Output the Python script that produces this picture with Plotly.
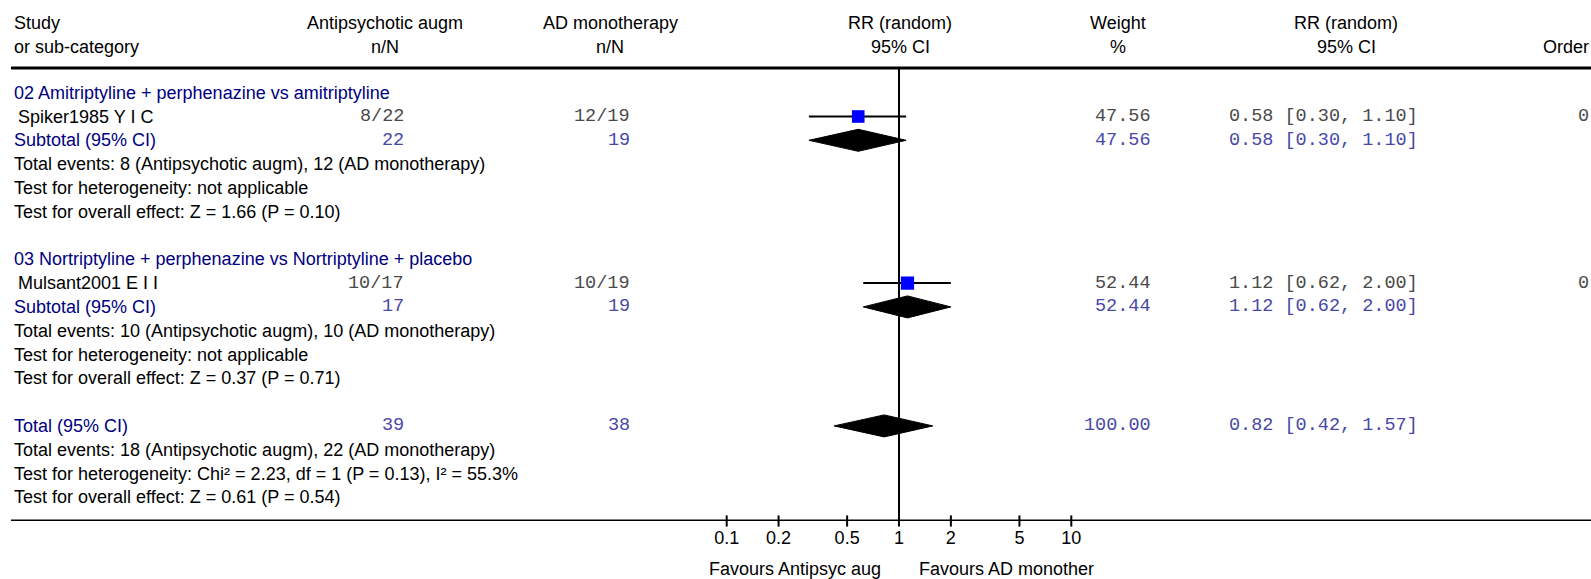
import plotly.graph_objects as go
import math

W, H = 1591, 579

# ---------------- data ----------------
group_titles = ["02 Amitriptyline + perphenazine vs amitriptyline",
                "03 Nortriptyline + perphenazine vs Nortriptyline + placebo"]
studies = ["Spiker1985 Y I C", "Mulsant2001 E I I"]
exp_events = [8, 10]
exp_total = [22, 17]
ctl_events = [12, 10]
ctl_total = [19, 19]
weights = [47.56, 52.44]
rr = [0.58, 1.12]
rr_lo = [0.30, 0.62]
rr_hi = [1.10, 2.00]
order = ["0", "0"]   # only the first character is visible at the right edge
group_events = ["Total events: 8 (Antipsychotic augm), 12 (AD monotherapy)",
                "Total events: 10 (Antipsychotic augm), 10 (AD monotherapy)"]
group_het = ["Test for heterogeneity: not applicable",
             "Test for heterogeneity: not applicable"]
group_effect = ["Test for overall effect: Z = 1.66 (P = 0.10)",
                "Test for overall effect: Z = 0.37 (P = 0.71)"]

total_exp_N = 39
total_ctl_N = 38
total_weight = 100.00
total_rr = 0.82
total_lo = 0.42
total_hi = 1.57
total_lines = ["Total events: 18 (Antipsychotic augm), 22 (AD monotherapy)",
               "Test for heterogeneity: Chi\u00b2 = 2.23, df = 1 (P = 0.13), I\u00b2 = 55.3%",
               "Test for overall effect: Z = 0.61 (P = 0.54)"]

tick_vals = [0.1, 0.2, 0.5, 1, 2, 5, 10]
tick_text = ["0.1", "0.2", "0.5", "1", "2", "5", "10"]

headers = [("Study", "or sub-category", 12, "left"),
           ("Antipsychotic augm", "n/N", 385, "center"),
           ("AD monotherapy", "n/N", 610, "center"),
           ("RR (random)", "95% CI", 900, "center"),
           ("Weight", "%", 1118, "center"),
           ("RR (random)", "95% CI", 1346, "center"),
           ("Order", "", 1591, "right")]

# ---------------- layout helpers ----------------
NAVY = "#000080"
MONO_BLACK = "#4a4a4a"
MONO_BLUE = "#4848a8"
SANS = "Liberation Sans, Arial, sans-serif"
MONO = "Liberation Mono, Courier New, monospace"
FS = 18
FM = 18.5

PLOT_BOTTOM = 521          # pixel of axis line
ROW0 = 92.7                 # pixel of row 0
ROWH = 23.8                 # row height in px
X1 = 899                    # pixel of RR = 1
DEC = 172.3                 # px per decade

def prow(px):
    return (px - ROW0) / ROWH

def xp(px):
    return px / W

ann = []

def text(px, row, s, color="black", anchor="left", font=SANS, size=FS, yref="y"):
    ann.append(dict(x=xp(px), xref="paper", y=row, yref=yref, text=s,
                    showarrow=False, xanchor=anchor, yanchor="middle",
                    font=dict(family=font, size=size, color=color)))

# header
for h1, h2, px, anc in headers:
    if h2:
        text(px, prow(23.3), h1, anchor=anc)
        text(px, prow(46.7), h2, anchor=anc)
    else:
        text(px, prow(46.7), h1, anchor=anc)

X_EXP = 406
X_CTL = 632
X_W = 1153
X_CI = 1227
X_ORD = 1591

fig = go.Figure()

# vertical line of no effect
fig.add_trace(go.Scatter(x=[1, 1], y=[prow(68), prow(PLOT_BOTTOM)], mode="lines",
                         line=dict(color="black", width=2), cliponaxis=False,
                         hoverinfo="skip", showlegend=False))

DH = 11 / ROWH  # diamond half height in rows

def diamond(est, lo, hi, row):
    fig.add_trace(go.Scatter(x=[lo, est, hi, est, lo], y=[row, row - DH, row, row + DH, row],
                             mode="lines", fill="toself", fillcolor="black",
                             line=dict(color="black", width=1), hoverinfo="skip",
                             showlegend=False))

for g in range(2):
    base = 7 * g
    text(12, base, group_titles[g], color=NAVY)
    # study row
    r = base + 1
    text(16, r, studies[g])
    text(X_EXP, r, f"{exp_events[g]}/{exp_total[g]}", color=MONO_BLACK, anchor="right", font=MONO, size=FM)
    text(X_CTL, r, f"{ctl_events[g]}/{ctl_total[g]}", color=MONO_BLACK, anchor="right", font=MONO, size=FM)
    text(X_W, r, f"{weights[g]:.2f}", color=MONO_BLACK, anchor="right", font=MONO, size=FM)
    text(X_CI, r, f"{rr[g]:.2f} [{rr_lo[g]:.2f}, {rr_hi[g]:.2f}]", color=MONO_BLACK, anchor="left", font=MONO, size=FM)
    text(X_ORD, r, order[g], color=MONO_BLACK, anchor="right", font=MONO, size=FM)
    fig.add_trace(go.Scatter(x=[rr_lo[g], rr_hi[g]], y=[r, r], mode="lines",
                             line=dict(color="black", width=2), hoverinfo="skip", showlegend=False))
    fig.add_trace(go.Scatter(x=[rr[g]], y=[r], mode="markers",
                             marker=dict(symbol="square", color="#0000ff",
                                         size=12.6 * math.sqrt(weights[g] / 47.56), line=dict(width=0)),
                             hoverinfo="skip", showlegend=False))
    # subtotal row
    r = base + 2
    text(12, r, "Subtotal (95% CI)", color=NAVY)
    text(X_EXP, r, f"{exp_total[g]}", color=MONO_BLUE, anchor="right", font=MONO, size=FM)
    text(X_CTL, r, f"{ctl_total[g]}", color=MONO_BLUE, anchor="right", font=MONO, size=FM)
    text(X_W, r, f"{weights[g]:.2f}", color=MONO_BLUE, anchor="right", font=MONO, size=FM)
    text(X_CI, r, f"{rr[g]:.2f} [{rr_lo[g]:.2f}, {rr_hi[g]:.2f}]", color=MONO_BLUE, anchor="left", font=MONO, size=FM)
    diamond(rr[g], rr_lo[g], rr_hi[g], r)
    text(12, base + 3, group_events[g])
    text(12, base + 4, group_het[g])
    text(12, base + 5, group_effect[g])

# overall total
r = 14
text(12, r, "Total (95% CI)", color=NAVY)
text(X_EXP, r, f"{total_exp_N}", color=MONO_BLUE, anchor="right", font=MONO, size=FM)
text(X_CTL, r, f"{total_ctl_N}", color=MONO_BLUE, anchor="right", font=MONO, size=FM)
text(X_W, r, f"{total_weight:.2f}", color=MONO_BLUE, anchor="right", font=MONO, size=FM)
text(X_CI, r, f"{total_rr:.2f} [{total_lo:.2f}, {total_hi:.2f}]", color=MONO_BLUE, anchor="left", font=MONO, size=FM)
diamond(total_rr, total_lo, total_hi, r)
for i, s in enumerate(total_lines):
    text(12, 15 + i, s)

# axis tick marks crossing the axis line
fig.add_trace(go.Scatter(x=tick_vals, y=[prow(PLOT_BOTTOM)] * len(tick_vals), mode="markers",
                         marker=dict(symbol="line-ns", size=8, line=dict(color="black", width=2)),
                         cliponaxis=False, hoverinfo="skip", showlegend=False))

# favours labels (below plot area)
fy = -(569 - PLOT_BOTTOM) / PLOT_BOTTOM
text(883, fy, "Favours Antipsyc aug", anchor="right", yref="paper")
text(917, fy, "Favours AD monother", anchor="left", yref="paper")

shapes = [
    dict(type="line", xref="paper", yref="y", x0=xp(11), x1=1, y0=prow(68), y1=prow(68),
         line=dict(color="black", width=3)),
    dict(type="line", xref="paper", yref="y", x0=xp(11), x1=1, y0=prow(PLOT_BOTTOM), y1=prow(PLOT_BOTTOM),
         line=dict(color="black", width=3)),
]

left_log = -X1 / DEC
right_log = (W - X1) / DEC

fig.update_layout(
    width=W, height=H,
    margin=dict(l=0, r=0, t=0, b=H - PLOT_BOTTOM, pad=0),
    paper_bgcolor="white", plot_bgcolor="white",
    xaxis=dict(type="log", range=[left_log, right_log], showgrid=False, zeroline=False,
               showline=False, tickvals=tick_vals, ticktext=tick_text, ticks="",
               tickfont=dict(family=SANS, size=FS, color="black"), ticklabelstandoff=4,
               fixedrange=True),
    yaxis=dict(range=[prow(PLOT_BOTTOM), prow(0)], visible=False, fixedrange=True),
    annotations=ann, shapes=shapes, showlegend=False,
)

fig.write_html("out.html", config={"displayModeBar": False},
               post_script="document.body.style.margin='0px';")
